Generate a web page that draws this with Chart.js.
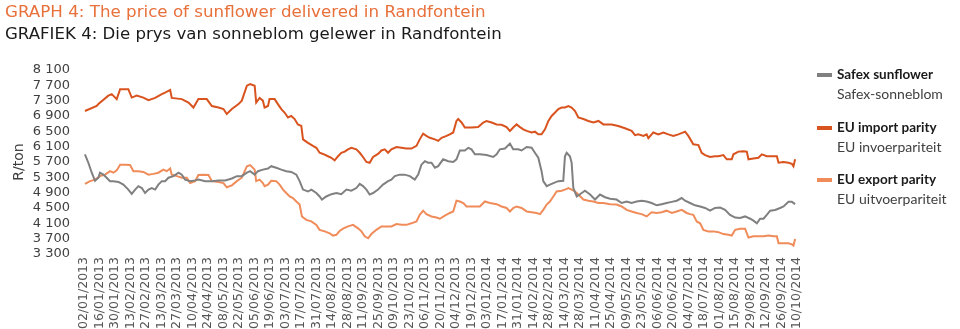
<!DOCTYPE html>
<html>
<head>
<meta charset="utf-8">
<script src="https://cdn.jsdelivr.net/npm/chart.js@4/dist/chart.umd.min.js"></script>
<style>
  html, body { margin: 0; padding: 0; background: #fff; }
  #wrap { width: 960px; height: 329px; }
</style>
</head>
<body>
<div id="wrap"><canvas id="graph"></canvas></div>
<script>
// Series: [trading day, R/ton]
const safexPoints = [
  [0.6, 5900], [2.8, 5680], [5, 5420], [7.1, 5210], [9.3, 5290], [10.3, 5420], [12.5, 5370], [14.6, 5290],
  [16.8, 5200], [19, 5200], [22.2, 5180], [25.4, 5110], [28.6, 4980], [30.8, 4870], [33, 4980], [35.1, 5070],
  [37.3, 5020], [39.4, 4890], [41.6, 4980], [43.7, 5020], [45.9, 4980], [48, 5110], [50.2, 5200], [52.3, 5200],
  [54.5, 5290], [57.7, 5330], [61, 5420], [63.1, 5370], [65.2, 5240], [68.5, 5200], [71.7, 5220], [73.8, 5240],
  [78.2, 5200], [82.5, 5200], [86.8, 5220], [91.1, 5220], [95.4, 5270], [98.6, 5330], [101.8, 5330], [105.1, 5420],
  [107.2, 5460], [110.1, 5370], [112.2, 5460], [115.4, 5500], [118.7, 5530], [120.8, 5590], [124, 5550], [127.3, 5500],
  [130.5, 5460], [133.7, 5440], [137, 5370], [139.1, 5200], [141.3, 4980], [144.5, 4930], [146.7, 4980], [149.9, 4890],
  [152, 4800], [153.5, 4720], [156.3, 4800], [159.6, 4860], [162.8, 4890], [166, 4860], [169.3, 4980], [172.5, 4950],
  [175.7, 5020], [177.9, 5130], [180, 5070], [182.2, 4980], [184.3, 4850], [186.5, 4890], [189.7, 4980], [192.9, 5110],
  [196.2, 5200], [198.3, 5240], [200.5, 5330], [203.7, 5370], [206.9, 5370], [210.2, 5330], [213.4, 5240], [215.6, 5370],
  [217.7, 5630], [219.9, 5720], [222, 5680], [224.2, 5680], [226.4, 5550], [228.5, 5590], [231.7, 5770], [235, 5720],
  [238.2, 5700], [240.3, 5770], [242.5, 6000], [245.7, 6000], [247.9, 6070], [250, 6030], [252.2, 5900], [255.4, 5900],
  [259.7, 5880], [264, 5830], [266.2, 5900], [268.3, 6030], [271.6, 6050], [274.8, 6180], [276.9, 6030], [280.2, 6030],
  [282.3, 6000], [285.6, 6090], [288.8, 6070], [290.9, 5940], [293.1, 5810], [295.2, 5460], [296.3, 5200], [298.5, 5070],
  [300.6, 5110], [302.8, 5150], [306, 5200], [309.2, 5210], [310.3, 5850], [311.4, 5940], [313.5, 5850], [314.6, 5680],
  [315.7, 5020], [317.9, 4800], [321.1, 4890], [323.2, 4950], [326.5, 4850], [329.7, 4720], [332.9, 4850], [336.2, 4780],
  [339.4, 4740], [343.6, 4720], [346.9, 4630], [350.1, 4670], [353.3, 4630], [356.5, 4670], [359.8, 4690], [363, 4670],
  [366.2, 4630], [369.5, 4570], [372.7, 4600], [375.9, 4630], [379.2, 4660], [382.4, 4690], [385.6, 4760], [387.8, 4690],
  [391, 4630], [394.2, 4570], [397.5, 4540], [400.7, 4500], [403.9, 4430], [407.1, 4500], [410.4, 4510], [413.6, 4450],
  [416.8, 4320], [420.1, 4250], [423.3, 4240], [426.5, 4280], [429.8, 4220], [431.9, 4170], [434.1, 4100], [436.2, 4220],
  [438.4, 4220], [440.5, 4320], [442.7, 4430], [445.9, 4450], [449.1, 4500], [451.3, 4540], [454.5, 4660], [456.7, 4660],
  [458.8, 4600]
];

const importPoints = [
  [0.6, 7030], [8.2, 7160], [9.3, 7210], [15.7, 7430], [17.9, 7470], [21.1, 7340], [23.3, 7600], [28.6, 7600],
  [30.8, 7380], [34, 7430], [38.3, 7380], [41.6, 7310], [45.9, 7370], [50.2, 7470], [52.3, 7510], [55.6, 7580],
  [56.6, 7370], [63.1, 7340], [67.4, 7250], [70.6, 7120], [73.8, 7340], [79.2, 7340], [82.5, 7160], [86.8, 7120],
  [90, 7080], [92.1, 6950], [95.4, 7080], [99.7, 7210], [101.8, 7300], [105.1, 7690], [107.2, 7730], [110.1, 7690],
  [111.1, 7250], [113.3, 7370], [115.4, 7300], [116.5, 7120], [118.7, 7160], [119.7, 7340], [123, 7340], [125.1, 7210],
  [127.3, 7080], [129.4, 6990], [131.6, 6860], [133.7, 6900], [135.9, 6820], [138, 6680], [140.2, 6640], [141.3, 6290],
  [144.5, 6200], [147.7, 6120], [149.9, 6070], [152, 5940], [154.2, 5910], [157.4, 5850], [159.6, 5810], [161.7, 5740],
  [163.9, 5850], [166, 5940], [168.2, 5970], [170.3, 6030], [172.5, 6070], [175.7, 6030], [177.9, 5940], [180, 5830],
  [182.2, 5700], [184.3, 5680], [186.5, 5830], [189.7, 5910], [191.9, 6000], [194, 6030], [196.2, 5940], [198.3, 6030],
  [201.6, 6090], [204.8, 6070], [208, 6050], [211.2, 6050], [214.5, 6120], [216.6, 6290], [218.8, 6440], [220.9, 6380],
  [223.1, 6330], [226.4, 6290], [228.5, 6250], [230.7, 6330], [233.9, 6380], [236, 6420], [238.2, 6470], [240.3, 6770],
  [241.4, 6820], [243.6, 6730], [245.7, 6600], [250, 6600], [254.3, 6610], [257.6, 6730], [259.7, 6770], [263, 6730],
  [266.2, 6680], [269.4, 6670], [272.6, 6610], [274.8, 6510], [276.9, 6600], [279.1, 6680], [281.3, 6610], [283.4, 6550],
  [285.6, 6510], [288.8, 6470], [290.9, 6490], [293.1, 6420], [295.2, 6420], [297.4, 6550], [299.6, 6770], [301.7, 6900],
  [303.9, 6990], [306, 7080], [308.2, 7120], [310.3, 7120], [312.5, 7160], [314.6, 7120], [316.8, 7030], [318.9, 6860],
  [322.2, 6820], [325.4, 6770], [328.6, 6730], [331.9, 6770], [335.1, 6680], [338.3, 6680], [340.4, 6680], [344.7, 6640],
  [349, 6580], [353.3, 6510], [355.5, 6400], [357.6, 6420], [360.9, 6380], [363, 6420], [364.1, 6320], [367.3, 6470],
  [370.5, 6420], [373.8, 6470], [377, 6420], [380.2, 6380], [383.5, 6420], [387.8, 6490], [389.9, 6380], [393.1, 6160],
  [396.4, 6140], [398.5, 5940], [400.7, 5880], [403.9, 5830], [407.1, 5850], [409.3, 5850], [412.5, 5880], [414.7, 5770],
  [417.9, 5770], [419, 5900], [422.2, 5970], [425.4, 5980], [427.6, 5970], [428.7, 5770], [431.9, 5790], [435.1, 5810],
  [437.3, 5900], [440.5, 5850], [443.7, 5850], [447, 5850], [448.1, 5680], [451.3, 5700], [454.5, 5680], [456.7, 5650],
  [457.7, 5590], [458.8, 5770]
];

const exportPoints = [
  [0.6, 5130], [3.9, 5200], [7.1, 5240], [10.3, 5330], [13.6, 5370], [16.8, 5460], [19, 5420], [21.1, 5480],
  [23.3, 5630], [26.5, 5630], [29.7, 5620], [31.9, 5460], [35.1, 5460], [38.3, 5440], [41.6, 5370], [44.8, 5390],
  [48, 5420], [51.2, 5500], [53.4, 5460], [55.6, 5530], [56.6, 5370], [59.9, 5330], [63.1, 5290], [66.3, 5290],
  [68.5, 5150], [71.7, 5200], [73.8, 5360], [77.1, 5370], [80.3, 5360], [82.5, 5200], [86.8, 5180], [90, 5150],
  [92.1, 5040], [95.4, 5090], [98.6, 5200], [101.8, 5290], [105.1, 5590], [107.2, 5620], [110.1, 5500], [111.1, 5200],
  [113.3, 5240], [115.4, 5150], [116.5, 5070], [118.7, 5110], [120.8, 5210], [124, 5200], [126.2, 5110], [128.4, 4980],
  [130.5, 4890], [132.7, 4800], [134.8, 4760], [137, 4670], [139.1, 4590], [140.6, 4280], [143.4, 4190], [146.7, 4150],
  [149.9, 4060], [152, 3930], [155.3, 3890], [158.5, 3840], [160.6, 3780], [162.8, 3800], [164.9, 3900], [167.1, 3960],
  [170.3, 4020], [173.6, 4060], [176.8, 3970], [179, 3890], [181.1, 3760], [183.3, 3710], [185.4, 3820], [188.6, 3930],
  [191.9, 4020], [195.1, 4020], [198.3, 4020], [201.6, 4080], [204.8, 4060], [208, 4060], [211.2, 4100], [214.5, 4150],
  [216.6, 4320], [218.8, 4430], [220.9, 4340], [224.2, 4280], [227.4, 4250], [229.6, 4220], [232.8, 4300], [236, 4370],
  [238.2, 4410], [240.3, 4690], [242.5, 4670], [244.7, 4630], [246.8, 4540], [251.1, 4540], [255.4, 4540], [258.6, 4670],
  [261.9, 4630], [266.2, 4600], [269.4, 4540], [272.6, 4500], [274.8, 4410], [276.9, 4500], [279.1, 4540], [282.3, 4500],
  [285.6, 4410], [288.8, 4390], [292, 4370], [294.2, 4340], [296.3, 4450], [298.5, 4590], [300.6, 4670], [302.8, 4800],
  [304.9, 4930], [308.2, 4950], [310.3, 4980], [312.5, 5020], [314.6, 4980], [316.8, 4930], [318.9, 4850], [322.2, 4720],
  [325.4, 4690], [328.6, 4670], [331.9, 4630], [335.1, 4630], [339.4, 4600], [343.6, 4590], [346.9, 4540], [350.1, 4450],
  [353.3, 4410], [356.5, 4370], [359.8, 4340], [363, 4280], [366.2, 4390], [369.5, 4370], [372.7, 4390], [375.9, 4430],
  [379.2, 4370], [382.4, 4410], [385.6, 4450], [388.8, 4370], [391, 4340], [393.1, 4320], [395.3, 4150], [397.5, 4100],
  [399.6, 3930], [402.8, 3890], [406.1, 3890], [409.3, 3870], [412.5, 3820], [415.8, 3800], [417.9, 3780], [420.1, 3930],
  [423.3, 3960], [426.5, 3960], [428.7, 3730], [431.9, 3760], [435.1, 3760], [438.4, 3760], [441.6, 3780], [444.8, 3760],
  [447, 3760], [448.1, 3580], [451.3, 3580], [454.5, 3580], [456.7, 3550], [457.7, 3520], [458.8, 3690]
];

// one label every 10 trading days
const tickLabels = [
  '02/01/2013', '16/01/2013', '30/01/2013', '13/02/2013', '27/02/2013', '13/03/2013', '27/03/2013', '10/04/2013',
  '24/04/2013', '08/05/2013', '22/05/2013', '05/06/2013', '19/06/2013', '03/07/2013', '17/07/2013', '31/07/2013',
  '14/08/2013', '28/08/2013', '11/09/2013', '25/09/2013', '09/10/2013', '23/10/2013', '06/11/2013', '20/11/2013',
  '04/12/2013', '19/12/2013', '03/01/2014', '17/01/2014', '31/01/2014', '14/02/2014', '28/02/2014', '14/03/2014',
  '28/03/2014', '11/04/2014', '25/04/2014', '09/05/2014', '23/05/2014', '06/06/2014', '20/06/2014', '04/07/2014',
  '18/07/2014', '01/08/2014', '15/08/2014', '29/08/2014', '12/09/2014', '26/09/2014', '10/10/2014'
];
const yTicks = [3300, 3700, 4100, 4500, 4900, 5300, 5700, 6100, 6500, 6900, 7300, 7700, 8100];

const seriesNames = ['Safex sunflower', 'EU import parity', 'EU export parity'];
const seriesNamesAf = ['Safex-sonneblom', 'EU invoerpariteit', 'EU uitvoerpariteit'];
const seriesColors = ['#808080', '#d9531e', '#f08c5a'];

const FONT = '"DejaVu Sans", sans-serif';
const LEGEND_FONT = 'Lato, "Noto Sans", sans-serif';
Chart.defaults.font.family = FONT;
Chart.defaults.color = '#404040';

const toXY = (pts) => pts.map((p) => ({ x: p[0], y: p[1] }));

// two-line legend at the right of the plot
const sideLegend = {
  id: 'sideLegend',
  afterDraw(chart) {
    const ctx = chart.ctx;
    const x0 = 817;
    const rows = [75, 128, 180];
    ctx.save();
    chart.data.datasets.forEach((ds, i) => {
      const y = rows[i];
      ctx.strokeStyle = ds.borderColor;
      ctx.lineWidth = 4;
      ctx.beginPath();
      ctx.moveTo(x0, y);
      ctx.lineTo(x0 + 15, y);
      ctx.stroke();
      ctx.fillStyle = '#1a1a1a';
      ctx.textBaseline = 'middle';
      ctx.font = 'bold 13.5px ' + LEGEND_FONT;
      ctx.fillText(ds.label, x0 + 20, y);
      ctx.fillStyle = '#404040';
      ctx.font = '14px ' + LEGEND_FONT;
      ctx.fillText(seriesNamesAf[i], x0 + 20, y + 19);
    });
    ctx.restore();
  },
};

const ctx = document.getElementById('graph').getContext('2d');
const chart = new Chart(ctx, {
  type: 'line',
  data: {
    datasets: [safexPoints, importPoints, exportPoints].map((pts, i) => ({
      label: seriesNames[i],
      data: toXY(pts),
      borderColor: seriesColors[i],
      backgroundColor: seriesColors[i],
      borderWidth: 2,
      pointRadius: 0,
      tension: 0,
    })),
  },
  options: {
    responsive: true,
    maintainAspectRatio: false,
    animation: false,
    layout: { padding: { left: 5, right: 163, top: 0, bottom: 0 } },
    plugins: {
      legend: { display: false },
      tooltip: { enabled: false },
      title: {
        display: true,
        text: 'GRAPH 4: The price of sunflower delivered in Randfontein',
        align: 'start',
        color: '#e8703a',
        font: { size: 16.7, weight: 'normal' },
        padding: { top: 3, bottom: 2 },
      },
      subtitle: {
        display: true,
        text: 'GRAFIEK 4: Die prys van sonneblom gelewer in Randfontein',
        align: 'start',
        color: '#1a1a1a',
        font: { size: 16.6 },
        padding: { top: 0, bottom: 25 },
      },
    },
    scales: {
      x: {
        type: 'linear',
        min: 0,
        max: 460,
        grid: { display: false, drawTicks: false },
        border: { display: false },
        afterBuildTicks: (scale) => {
          scale.ticks = tickLabels.map((_, i) => ({ value: i * 10 }));
        },
        afterFit: (scale) => {
          scale.height = 75;
        },
        ticks: {
          autoSkip: false,
          minRotation: 90,
          maxRotation: 90,
          padding: 3,
          color: '#555555',
          font: { size: 12.5 },
          callback: (v) => tickLabels[Math.round(v / 10)],
        },
      },
      y: {
        min: 3300,
        max: 8100,
        grid: { display: false, drawTicks: false },
        border: { display: false },
        afterBuildTicks: (scale) => {
          scale.ticks = yTicks.map((v) => ({ value: v }));
        },
        afterFit: (scale) => {
          scale.width = 79;
        },
        title: {
          display: true,
          text: 'R/ton',
          font: { size: 14 },
          color: '#404040',
          padding: { top: 6, bottom: 0 },
        },
        ticks: {
          autoSkip: false,
          padding: 14,
          font: { size: 13 },
          callback: (v) => String(v).replace(/\B(?=(\d{3})+(?!\d))/g, ' '),
        },
      },
    },
  },
  plugins: [sideLegend],
});
</script>
</body>
</html>
